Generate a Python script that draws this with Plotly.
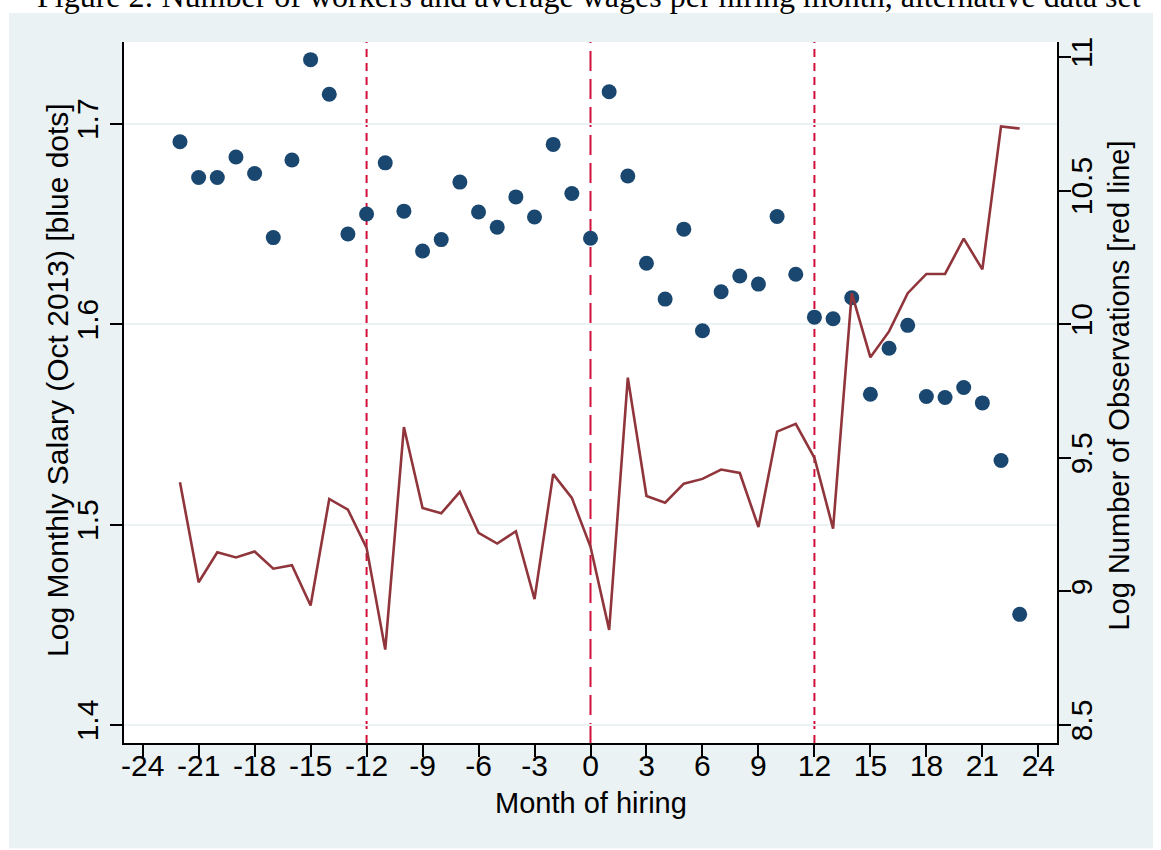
import plotly.graph_objects as go

# ---------------- data ----------------
months = list(range(-22, 24))
log_salary = [1.691, 1.6732, 1.6732, 1.6834, 1.6752, 1.6432, 1.6819, 1.732, 1.7147, 1.645,
              1.655, 1.6805, 1.6564, 1.6365, 1.6422, 1.6709, 1.656, 1.6484, 1.6635, 1.6535,
              1.6897, 1.6652, 1.6429, 1.716, 1.6739, 1.6304, 1.6125, 1.6474, 1.5967, 1.6162,
              1.624, 1.62, 1.6537, 1.6249, 1.6035, 1.6027, 1.6132, 1.565, 1.588, 1.5994,
              1.5639, 1.5634, 1.5684, 1.5607, 1.532, 1.4552]
log_obs = [9.408, 9.034, 9.146, 9.127, 9.149, 9.085, 9.098, 8.947, 9.346, 9.306,
           9.163, 8.782, 9.615, 9.312, 9.292, 9.372, 9.219, 9.179, 9.225, 8.971,
           9.439, 9.350, 9.167, 8.856, 9.800, 9.357, 9.332, 9.403, 9.421, 9.456,
           9.443, 9.241, 9.598, 9.627, 9.500, 9.235, 10.116, 9.876, 9.973, 10.116,
           10.188, 10.188, 10.320, 10.205, 10.740, 10.732]
x_ticks = list(range(-24, 25, 3))
x_tick_labels = [str(v) for v in x_ticks]
y_ticks = [1.4, 1.5, 1.6, 1.7]
y_tick_labels = ["1.4", "1.5", "1.6", "1.7"]
y2_ticks = [8.5, 9, 9.5, 10, 10.5, 11]
y2_tick_labels = ["8.5", "9", "9.5", "10", "10.5", "11"]
ref_months_dotted = [-12, 12]
ref_months_dashed = [0]

title_text = "Figure 2: Number of workers and average wages per hiring month, alternative data set"
x_title = "Month of hiring"
y_title = "Log Monthly Salary (Oct 2013) [blue dots]"
y2_title = "Log Number of Observations [red line]"

# ---------------- style ----------------
SANS = "Liberation Sans, Arial, sans-serif"
SERIF = "Liberation Serif, Times New Roman, serif"
BG = "#EAF2F3"
NAVY = "#1A476F"
CRANBERRY = "#90353B"
CRIMSON = "#D0103A"
FS = 30

fig = go.Figure()
fig.add_trace(go.Scatter(
    x=months, y=log_salary, mode="markers",
    marker=dict(size=15, color=NAVY, line=dict(width=0)),
    yaxis="y", name="Log salary", hoverinfo="x+y"))
fig.add_trace(go.Scatter(
    x=months, y=log_obs, mode="lines",
    line=dict(color=CRANBERRY, width=2.6),
    yaxis="y2", name="Log observations", hoverinfo="x+y"))

shapes = []
for m in ref_months_dotted:
    shapes.append(dict(type="line", xref="x", yref="paper", x0=m, x1=m, y0=0, y1=1,
                       line=dict(color=CRIMSON, width=2, dash="8px,6px"), layer="between"))
for m in ref_months_dashed:
    shapes.append(dict(type="line", xref="x", yref="paper", x0=m, x1=m, y0=0, y1=1,
                       line=dict(color=CRIMSON, width=2, dash="20px,8px"), layer="between"))
# white outer border strips (graph region is light blue-grey)
for x0, x1, y0, y1 in [(-0.3, 1.3, 1.0414, 1.3), (-0.3, -0.1233, -0.3, 1.3),
                       (1.1029, 1.3, -0.3, 1.3), (-0.3, 1.3, -0.3, -0.150)]:
    shapes.append(dict(type="rect", xref="paper", yref="paper", x0=x0, x1=x1, y0=y0, y1=y1,
                       fillcolor="white", line=dict(width=0), layer="below"))

annotations = [
    dict(text=title_text, xref="paper", yref="paper", x=0.4989, y=1.0374,
         xanchor="center", yanchor="bottom", showarrow=False,
         font=dict(family=SERIF, size=32, color="black")),
    dict(text=x_title, xref="paper", yref="paper", x=0.5005, y=-0.0856,
         xanchor="center", yanchor="middle", showarrow=False,
         font=dict(family=SANS, size=29, color="black")),
    dict(text=y_title, xref="paper", yref="paper", x=-0.0707, y=0.518,
         xanchor="center", yanchor="middle", textangle=-90, showarrow=False,
         font=dict(family=SANS, size=30, color="black")),
    dict(text=y2_title, xref="paper", yref="paper", x=1.0665, y=0.51,
         xanchor="center", yanchor="middle", textangle=-90, showarrow=False,
         font=dict(family=SANS, size=29, color="black")),
]

axis_common = dict(ticks="outside", ticklen=12, tickwidth=1.5, tickcolor="black",
                   showline=True, linecolor="black", linewidth=1.5, zeroline=False,
                   tickfont=dict(family=SANS, size=FS, color="black"))

fig.update_layout(
    width=1161, height=850, autosize=False,
    margin=dict(l=124, r=104, t=42, b=107),
    paper_bgcolor=BG, plot_bgcolor="white",
    showlegend=False,
    font=dict(family=SANS, size=FS, color="black"),
    xaxis=dict(range=[-25, 25], tickvals=x_ticks, ticktext=x_tick_labels,
               showgrid=False, ticklabelstandoff=-17, **axis_common),
    yaxis=dict(range=[1.391, 1.7408], tickvals=y_ticks, ticktext=y_tick_labels,
               tickangle=-90, showgrid=True, gridcolor=BG, gridwidth=2, **axis_common),
    yaxis2=dict(range=[8.4326, 11.056], tickvals=y2_ticks, ticktext=y2_tick_labels,
                tickangle=-90, overlaying="y", side="right", showgrid=False,
                ticklabelstandoff=-15, **axis_common),
    shapes=shapes,
    annotations=annotations,
)

fig.write_html("out.html",
               config={"displayModeBar": False},
               post_script="document.body.style.margin='0px';document.body.style.overflow='hidden';")
